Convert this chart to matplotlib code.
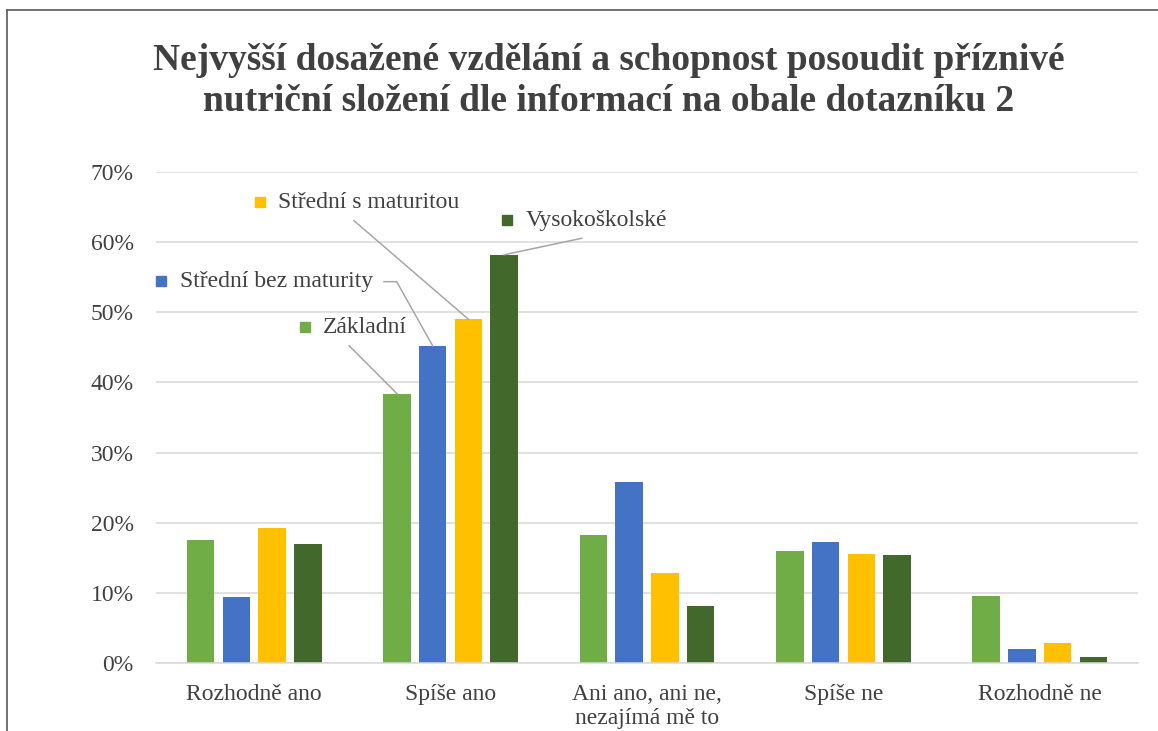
import numpy as np
import matplotlib
matplotlib.use('Agg')
import matplotlib.pyplot as plt
from matplotlib.lines import Line2D

plt.rcParams['font.family'] = ['Liberation Serif', 'DejaVu Serif']

categories = ['Rozhodně ano', 'Spíše ano', 'Ani ano, ani ne,\nnezajímá mě to', 'Spíše ne', 'Rozhodně ne']
series = ['Základní', 'Střední bez maturity', 'Střední s maturitou', 'Vysokoškolské']
zakladni = [0.175, 0.384, 0.183, 0.159, 0.095]
stredni_bez = [0.094, 0.452, 0.258, 0.172, 0.020]
stredni_s = [0.193, 0.490, 0.129, 0.156, 0.028]
vysokoskolske = [0.169, 0.582, 0.081, 0.154, 0.009]
colors = ['#70AD47', '#4472C4', '#FFC000', '#43682B']

values = [zakladni, stredni_bez, stredni_s, vysokoskolske]
txt = '#404040'

fig = plt.figure(figsize=(11.58, 7.31), dpi=100)
ax = fig.add_axes([156/1158, 1-663/731, (1138-156)/1158, (663-172)/731])

x = np.arange(len(categories))
pitch = 0.182
width = 0.14
offsets = (np.arange(4) - 1.5) * pitch
for i in range(4):
    ax.bar(x + offsets[i], values[i], width, color=colors[i], zorder=3)

ax.set_xlim(-0.5, len(categories) - 0.5)
ax.set_ylim(0, 0.7)
ax.set_yticks(np.arange(0, 0.71, 0.1))
ax.set_yticklabels(['%d%%' % round(v * 100) for v in np.arange(0, 0.71, 0.1)])
ax.set_xticks(x)
ax.set_xticklabels(categories)
ax.tick_params(axis='both', length=0, labelsize=17, colors=txt)
ax.tick_params(axis='y', pad=16)
ax.tick_params(axis='x', pad=15)
for lab in ax.get_xticklabels():
    lab.set_linespacing(1.2)
ax.yaxis.grid(True, color='#D9D9D9', linewidth=1.1, zorder=0)
ax.set_axisbelow(True)
for s in ['top', 'right', 'left']:
    ax.spines[s].set_visible(False)
ax.spines['bottom'].set_color('#D9D9D9')
ax.spines['bottom'].set_linewidth(1.1)
ax.spines['bottom'].set_zorder(4)

# data labels for the "Spíše ano" group, with leader lines
k = 1
label_pos = [(0.261, 0.479), (-0.4745, 0.5446), (0.0295, 0.657), (1.287, 0.631)]
leader_start = [[(0.483, 0.4524)],
                [(0.661, 0.5436), (0.7256, 0.5436)],
                [(0.508, 0.6306)],
                [(1.6675, 0.6055)]]
text_dx = [0.088, 0.097, 0.093, 0.097]
for i in range(4):
    lx, ly = label_pos[i]
    ax.plot([lx], [ly], marker='s', markersize=7.8, color=colors[i],
            linestyle='none', zorder=5, clip_on=False)
    ax.text(lx + text_dx[i], ly, series[i], fontsize=17, color=txt,
            va='center', ha='left', zorder=5)
    pts = leader_start[i] + [(k + offsets[i], values[i][k])]
    ax.plot([p[0] for p in pts], [p[1] for p in pts], color='#A6A6A6',
            linewidth=1.1, zorder=5, clip_on=False)

fig.text(0.526, 1 - 81/731, 'Nejvyšší dosažené vzdělání a schopnost posoudit příznivé\n'
         'nutriční složení dle informací na obale dotazníku 2',
         ha='center', va='center', fontsize=27, fontweight='bold', color=txt,
         linespacing=1.25)

# outer frame
fig.add_artist(Line2D([7/1158, 7/1158], [0, 1 - 10/731], color='#595959', linewidth=1.2))
fig.add_artist(Line2D([7/1158, 1], [1 - 10/731, 1 - 10/731], color='#595959', linewidth=1.2))

fig.savefig('out.png', dpi=100)
